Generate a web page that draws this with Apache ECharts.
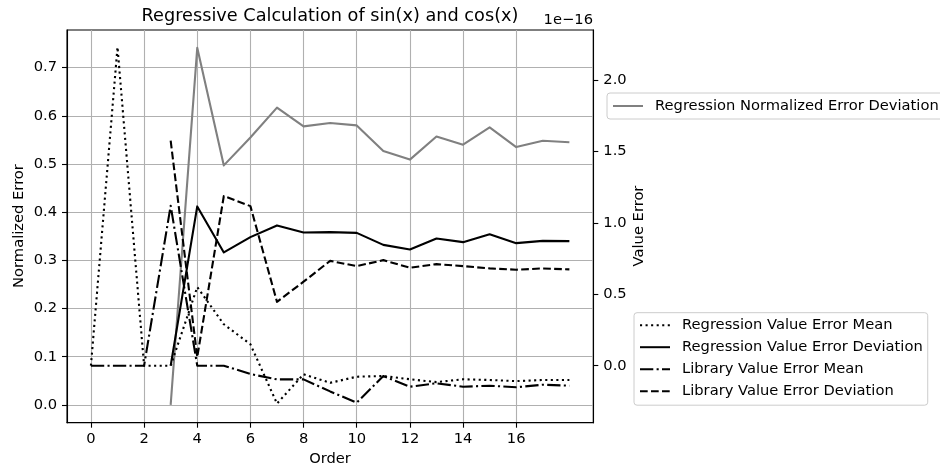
<!DOCTYPE html>
<html><head><meta charset="utf-8">
<script src="https://cdn.jsdelivr.net/npm/echarts@6/dist/echarts.min.js"></script>
<style>html,body{margin:0;padding:0;background:#fff}#c{width:940px;height:471px}</style>
</head><body><div id="c"></div>
<script>
// ---- data ----
const orders = [0,1,2,3,4,5,6,7,8,9,10,11,12,13,14,15,16,17,18];
// left axis: Normalized Error
const regNormErrDev = [null,null,null,0.0,0.741,0.497,0.555,0.617,0.578,0.585,0.580,0.527,0.509,0.557,0.540,0.576,0.535,0.548,0.545];
// right axis: Value Error, in units of 1e-16
const regValErrMean = [0,2.23,0,0,0.55,0.29,0.15,-0.265,-0.06,-0.12,-0.077,-0.072,-0.095,-0.115,-0.095,-0.1,-0.108,-0.1,-0.1];
const regValErrDev  = [null,null,null,0,1.115,0.793,0.9,0.982,0.932,0.935,0.93,0.846,0.814,0.89,0.865,0.92,0.858,0.874,0.872];
const libValErrMean = [0,0,0,1.12,0,0,-0.058,-0.096,-0.096,-0.18,-0.259,-0.072,-0.147,-0.123,-0.147,-0.14,-0.151,-0.133,-0.14];
const libValErrDev  = [null,null,null,1.575,0.06,1.188,1.117,0.447,0.588,0.734,0.697,0.739,0.686,0.711,0.697,0.681,0.672,0.681,0.674];
// tick labels
const xTicks = [0,2,4,6,8,10,12,14,16];
const leftTicks = [0,0.1,0.2,0.3,0.4,0.5,0.6,0.7];
const rightTicks = [0,0.5,1.0,1.5,2.0];

const F = 'DejaVu Sans';
const FS = 14.7;
const pairs = arr => orders.map((o,i)=>[o, arr[i]]).filter(p => p[1] !== null);
const LW = 2.1;
const lineS = (name, arr, yIdx, color, type) => ({
  name, type: 'line', xAxisIndex: 0, yAxisIndex: yIdx, data: pairs(arr),
  symbol: 'none', showSymbol: false, animation: false,
  lineStyle: { color, width: LW, type, cap: 'butt', join: 'round' },
  itemStyle: { color }, emphasis: { disabled: true }
});

const chart = echarts.init(document.getElementById('c'), null, {renderer: 'canvas'});
const gridLine = { show: true, lineStyle: { color: '#b0b0b0', width: 1.1 } };
const axLine = { show: true, onZero: false, lineStyle: { color: '#000', width: 1.1 } };
const axTick = (vals) => ({ show: true, length: 5, inside: false, lineStyle: { color: '#000', width: 1.1 }, customValues: vals });
const lblStyle = { color: '#000', fontSize: FS, fontFamily: F };
const legendCommon = {
  orient: 'vertical', itemWidth: 30, itemHeight: 14, itemGap: 7,
  borderColor: '#cccccc', borderWidth: 1, borderRadius: 3,
  backgroundColor: 'rgba(255,255,255,0.8)', selectedMode: false,
  itemStyle: { color: 'rgba(0,0,0,0)', borderWidth: 0, opacity: 0 },
  textStyle: { fontSize: FS, color: '#000', fontFamily: F, padding: [0,0,0,7] }
};

chart.setOption({
  backgroundColor: '#fff',
  animation: false,
  grid: { left: 67, top: 30, right: 346.7, bottom: 48.3, show: true, borderColor: '#000', borderWidth: 1.1, backgroundColor: 'transparent', containLabel: false, outerBoundsMode: 'none' },
  xAxis: {
    type: 'value', min: -0.9, max: 18.9,
    axisLine: axLine, axisTick: axTick(xTicks), splitLine: gridLine,
    axisLabel: Object.assign({ margin: 9, customValues: xTicks, formatter: v => String(v) }, lblStyle)
  },
  yAxis: [
    { type: 'value', position: 'left', min: -0.037, max: 0.778,
      axisLine: axLine, axisTick: axTick(leftTicks), splitLine: gridLine,
      axisLabel: Object.assign({ margin: 10, customValues: leftTicks, formatter: v => v.toFixed(1) }, lblStyle) },
    { type: 'value', position: 'right', min: -0.399, max: 2.35,
      axisLine: axLine, axisTick: axTick(rightTicks), splitLine: { show: false },
      axisLabel: Object.assign({ margin: 10, customValues: rightTicks, formatter: v => v.toFixed(1) }, lblStyle) }
  ],
  legend: [
    Object.assign({ left: 607, top: 93, padding: [5.5,5,5.5,5],
      data: ['Regression Normalized Error Deviation'] }, legendCommon),
    Object.assign({ left: 634, top: 312.7, padding: [5,5,6.5,5],
      data: ['Regression Value Error Mean', 'Regression Value Error Deviation', 'Library Value Error Mean', 'Library Value Error Deviation'] }, legendCommon)
  ],
  graphic: [
    { type: 'text', x: 330, y: 16, style: { text: 'Regressive Calculation of sin(x) and cos(x)', font: '17.7px "DejaVu Sans"', fill: '#000', textAlign: 'center', textVerticalAlign: 'middle' } },
    { type: 'text', x: 593, y: 20, style: { text: '1e\u221216', font: FS + 'px "DejaVu Sans"', fill: '#000', textAlign: 'right', textVerticalAlign: 'middle' } },
    { type: 'text', x: 19, y: 226, rotation: Math.PI/2, style: { text: 'Normalized Error', font: FS + 'px "DejaVu Sans"', fill: '#000', textAlign: 'center', textVerticalAlign: 'middle' } },
    { type: 'text', x: 639, y: 226, rotation: Math.PI/2, style: { text: 'Value Error', font: FS + 'px "DejaVu Sans"', fill: '#000', textAlign: 'center', textVerticalAlign: 'middle' } },
    { type: 'text', x: 330, y: 459, style: { text: 'Order', font: FS + 'px "DejaVu Sans"', fill: '#000', textAlign: 'center', textVerticalAlign: 'middle' } }
  ],
  series: [
    lineS('Regression Normalized Error Deviation', regNormErrDev, 0, '#808080', 'solid'),
    lineS('Regression Value Error Mean', regValErrMean, 1, '#000', [2.1, 3.45]),
    lineS('Regression Value Error Deviation', regValErrDev, 1, '#000', 'solid'),
    lineS('Library Value Error Mean', libValErrMean, 1, '#000', [13.3, 3.3, 2.1, 3.3]),
    lineS('Library Value Error Deviation', libValErrDev, 1, '#000', [7.7, 3.3])
  ]
});
</script>
</body></html>
